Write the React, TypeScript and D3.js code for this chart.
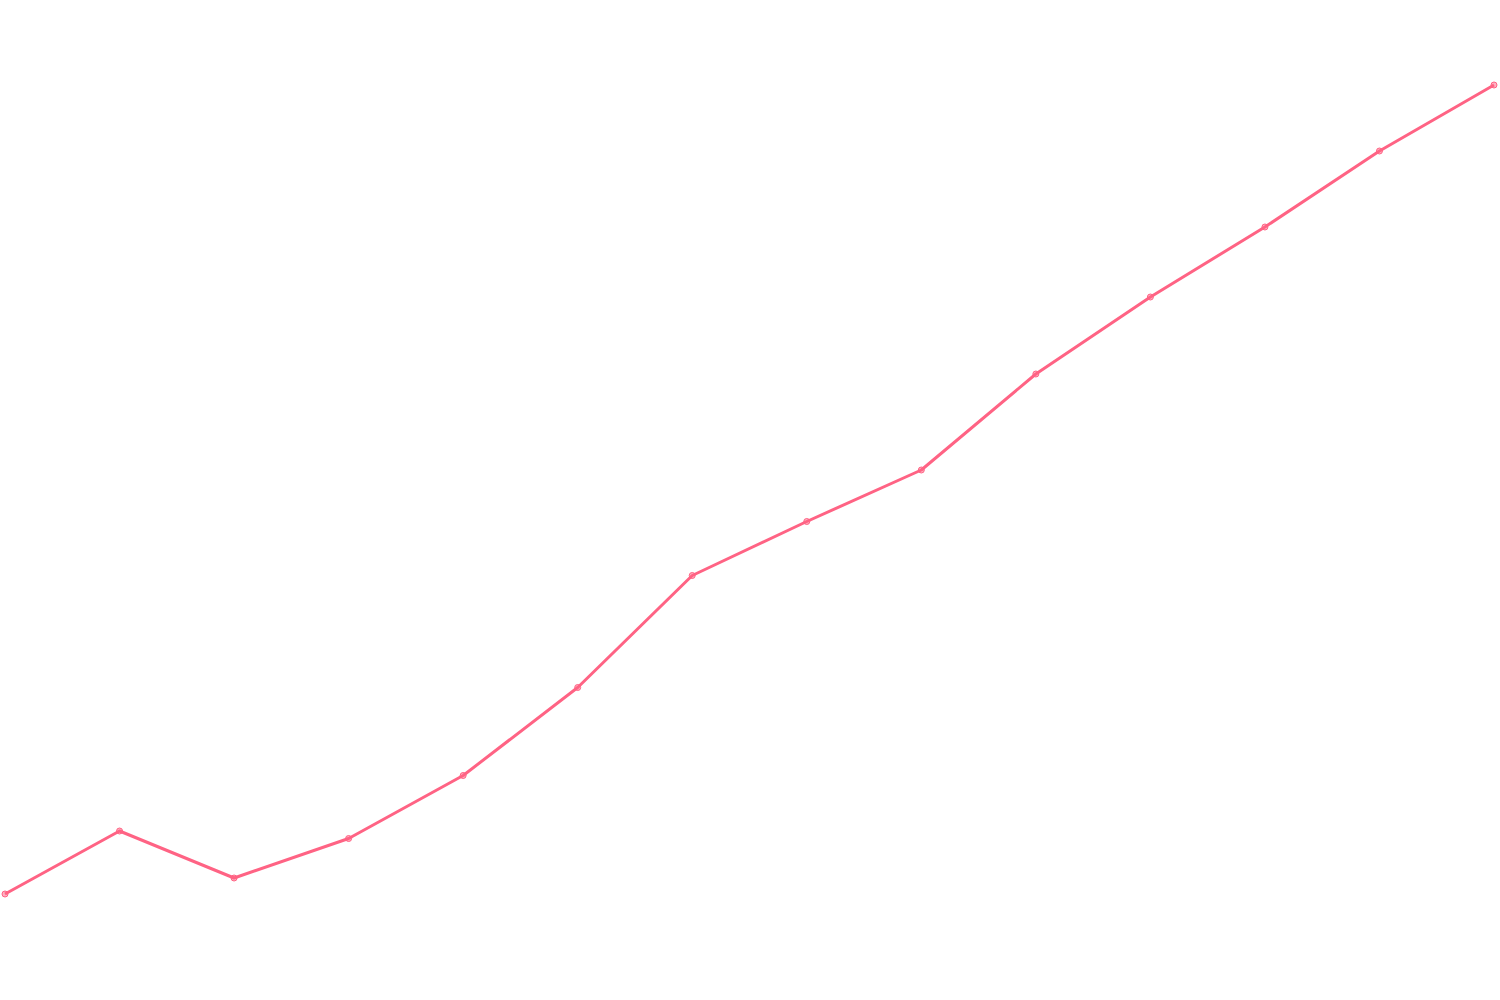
import React, { useEffect, useRef } from 'react';
import * as d3 from 'd3';

// Chart data (axes are hidden in the original)
const categories = ['1', '2', '3', '4', '5', '6', '7', '8', '9', '10', '11', '12', '13', '14'];
const seriesValues = [10.6, 16.9, 12.2, 16.15, 22.45, 31.25, 42.45, 47.85, 53.0, 62.6, 70.3, 77.3, 84.9, 91.5];
const yDomain = [0, 100];

const width = 1500;
const height = 1000;

const LineChart: React.FC = () => {
  const svgRef = useRef<SVGSVGElement>(null);

  useEffect(() => {
    if (!svgRef.current) return;

    // Clear previous content
    d3.select(svgRef.current).selectAll('*').remove();

    const svg = d3.select(svgRef.current)
      .attr('width', width)
      .attr('height', height);

    const x = d3.scalePoint<string>()
      .domain(categories)
      .range([5, 1494]);

    const y = d3.scaleLinear()
      .domain(yDomain)
      .range([height, 0]);

    const points = categories.map((c, i) => ({ name: c, value: seriesValues[i] }));

    const line = d3.line<{ name: string; value: number }>()
      .x(d => x(d.name)!)
      .y(d => y(d.value));

    // The line
    svg.append('path')
      .datum(points)
      .attr('d', line)
      .style('fill', 'none')
      .style('stroke', '#ff6384')
      .style('stroke-width', '3px')
      .style('stroke-linejoin', 'round');

    // Point markers
    svg.selectAll('.dot')
      .data(points)
      .enter()
      .append('circle')
      .attr('class', 'dot')
      .attr('cx', d => x(d.name)!)
      .attr('cy', d => y(d.value))
      .attr('r', 3)
      .style('fill', 'rgba(255, 99, 132, 0.5)')
      .style('stroke', '#ff6384')
      .style('stroke-width', '1px');
  }, []);

  return (
    <svg
      ref={svgRef}
      style={{ position: 'absolute', left: 0, top: 0, background: '#fff' }}
    />
  );
};

export default function App() {
  return <LineChart />;
}
